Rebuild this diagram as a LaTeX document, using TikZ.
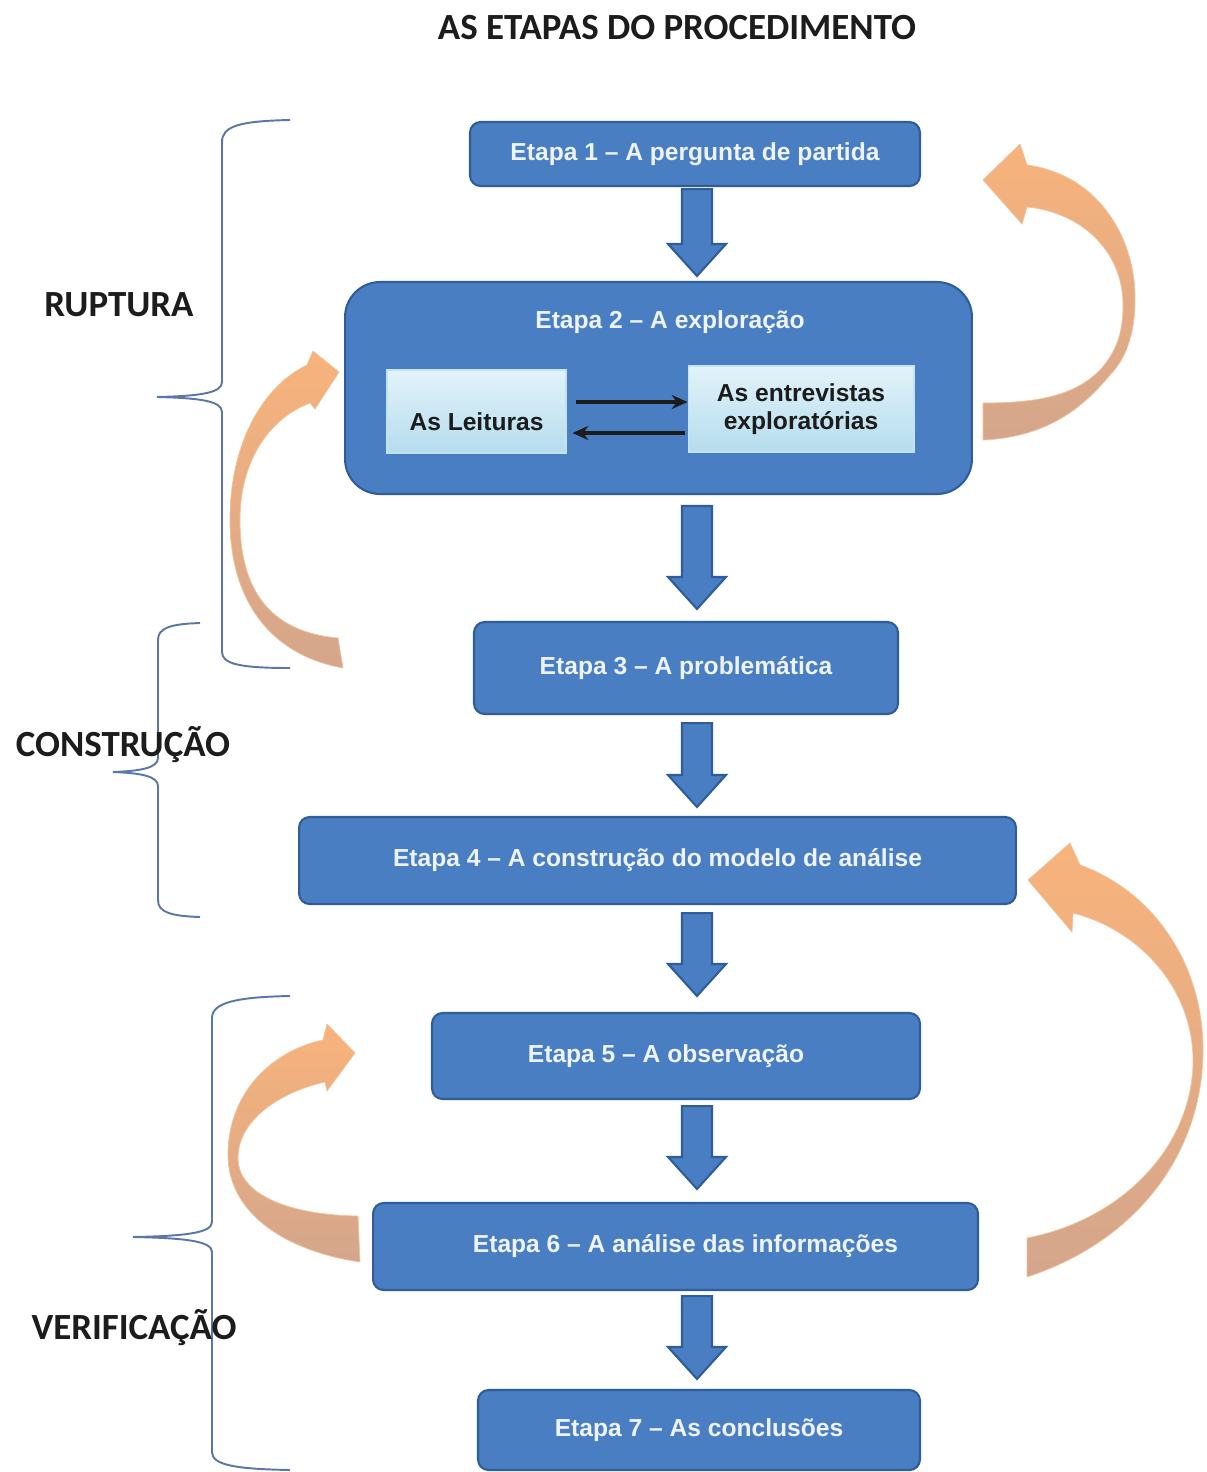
\documentclass[tikz,border=0pt]{standalone}
\usepackage{fontspec}
\setmainfont{Liberation Sans}
\newfontfamily\calibri{Carlito}
\usetikzlibrary{calc,arrows.meta}

\definecolor{boxblue}{HTML}{4A7EC2}
\definecolor{boxedge}{HTML}{2E5D9A}
\definecolor{boxtext}{HTML}{EEF3FA}
\definecolor{bracecol}{HTML}{5B77A6}
\definecolor{orangeA}{HTML}{F8B37B}
\definecolor{orangeB}{HTML}{D4A68C}
\definecolor{paleA}{HTML}{E2F3FA}
\definecolor{paleB}{HTML}{B5DCEE}
\definecolor{inktext}{HTML}{1C1C1C}

\tikzset{
  stage/.style={draw=boxedge, line width=1.2pt, fill=boxblue, rounded corners=6pt,
    text=boxtext, font=\bfseries\fontsize{14}{16}\selectfont, inner sep=0pt},
  stagetext/.style={text=boxtext, font=\bfseries\fontsize{14}{16}\selectfont, inner sep=0pt},
  subbox/.style={draw=paleB!80!white, line width=0.6pt, top color=paleA, bottom color=paleB,
    text=inktext, font=\bfseries\fontsize{14}{16}\selectfont, inner sep=0pt, align=center},
  blockarrow/.style={draw=boxedge, line width=1.2pt, fill=boxblue, line join=miter},
  ribbon/.style={top color=orangeA, bottom color=orangeB, draw=orangeA!80!brown!70, line width=0.4pt},
  bracestyle/.style={draw=bracecol, line width=1.1pt},
  phase/.style={font=\calibri\bfseries\fontsize{21}{25}\selectfont, text=inktext, inner sep=0pt},
  smallarrow/.style={-{Stealth[length=9pt,width=8pt]}, line width=1.8pt, draw=inktext}
}

% down-pointing block arrow between two stacked nodes, on the vertical line through (ax)
\newcommand\blockdown[4]{%
  \draw[blockarrow] let \p1=($(#1.south -| ax)+(0,#3)$), \p2=($(#2.north -| ax)+(0,-#4)$) in
    (\x1-0.3cm,\y1) -- (\x1+0.3cm,\y1) -- (\x1+0.3cm,\y2+0.64cm) -- (\x1+0.58cm,\y2+0.64cm)
    -- (\x1,\y2) -- (\x1-0.58cm,\y2+0.64cm) -- (\x1-0.3cm,\y2+0.64cm) -- cycle;}

\begin{document}
\begin{tikzpicture}[x=0.02cm,y=-0.02cm]
\useasboundingbox[fill=white] (0,0) rectangle (1207,1472);

% title
\node[phase] (ttl) at (677,28) {AS ETAPAS DO PROCEDIMENTO};

% phase braces
\draw[bracestyle] (290,120) .. controls (240,121) and (222,126) .. (222,142) -- (222,382)
  .. controls (222,393) and (200,396) .. (157,397) .. controls (200,398) and (222,401) .. (222,412)
  -- (222,652) .. controls (222,664) and (240,668) .. (290,668);
\draw[bracestyle] (200,623) .. controls (170,624) and (158,628) .. (158,640) -- (158,758)
  .. controls (158,768) and (140,771) .. (113,772) .. controls (140,773) and (158,776) .. (158,786)
  -- (158,900) .. controls (158,912) and (170,916) .. (200,917);
\draw[bracestyle] (290,996) .. controls (235,997) and (212,1003) .. (212,1018) -- (212,1222)
  .. controls (212,1233) and (185,1236) .. (133,1237) .. controls (185,1238) and (212,1241) .. (212,1252)
  -- (212,1452) .. controls (212,1465) and (235,1469) .. (290,1470);

\node[phase] (rup) at (119,305) {RUPTURA};
\node[phase] (con) at (123,745) {CONSTRUÇÃO};
\node[phase] (ver) at (134,1328) {VERIFICAÇÃO};

% stages
\node[stage, minimum width=9cm, minimum height=1.28cm] (b1) at (695,154) {Etapa 1 – A pergunta de partida};
\node[stage, rounded corners=20pt, minimum width=12.54cm, minimum height=4.24cm] (b2) at (658.5,388) {};
\node[stagetext] (b2t) at (670,322) {Etapa 2 – A exploração};
\node[subbox, minimum width=3.58cm, minimum height=1.66cm] (lit) at (476.5,411.5) {\raisebox{-0.37cm}[0pt][0pt]{As Leituras}};
\node[subbox, minimum width=4.52cm, minimum height=1.72cm] (ent) at (801,409) {As entrevistas\\exploratórias};
\node[stage, minimum width=8.48cm, minimum height=1.84cm] (b3) at (686,668) {Etapa 3 – A problemática};
\node[stage, minimum width=14.34cm, minimum height=1.74cm] (b4) at (657.5,860.5) {Etapa 4 – A construção do modelo de análise};
\node[stage, minimum width=9.76cm, minimum height=1.72cm] (b5) at (676,1056) {Etapa 5 – A observação\hspace*{0.4cm}};
\node[stage, minimum width=12.1cm, minimum height=1.74cm] (b6) at (675.5,1246.5) {\hspace*{0.4cm}Etapa 6 – A análise das informações};
\node[stage, minimum width=8.84cm, minimum height=1.6cm] (b7) at (699,1430) {Etapa 7 – As conclusões};

% exchange between readings and interviews
\coordinate (yup) at (0,402);
\coordinate (ydn) at (0,433);
\draw[smallarrow] ($(lit.east |- yup)+(9,0)$) -- (ent.west |- yup);
\draw[smallarrow] ($(ent.west |- ydn)+(-3,0)$) -- ($(lit.east |- ydn)+(6,0)$);

% block arrows between stages
\coordinate (ax) at (697,0);
\blockdown{b1}{b2}{2}{5}
\blockdown{b2}{b3}{11}{12}
\blockdown{b3}{b4}{8}{9}
\blockdown{b4}{b5}{8}{16}
\blockdown{b5}{b6}{6}{13}
\blockdown{b6}{b7}{5}{10}

% feedback arrows: stage 2 back to stage 1
\path[ribbon] (983,403) .. controls (1040,403) and (1075,395) .. (1100,370)
  .. controls (1118,350) and (1123,330) .. (1123,305)
  .. controls (1123,250) and (1080,212) .. (1027,207) -- (1022,224) -- (983,180) -- (1020,144) -- (1027,165)
  .. controls (1100,175) and (1136,240) .. (1135,300)
  .. controls (1135,335) and (1125,360) .. (1110,375)
  .. controls (1085,405) and (1050,437) .. (983,440) -- cycle;
% stage 3 back to stage 2
\path[ribbon] (338,638) .. controls (270,632) and (240,590) .. (240,520)
  .. controls (240,460) and (270,418) .. (310,403) -- (315,409) -- (339,372) -- (313,351) -- (307,365)
  .. controls (265,385) and (230,440) .. (230,520)
  .. controls (230,600) and (270,655) .. (343,668) -- cycle;
% stage 6 back to stage 4
\path[ribbon] (1027,1238) .. controls (1120,1220) and (1190,1150) .. (1193,1065)
  .. controls (1195,990) and (1140,930) .. (1073,913) -- (1072,932) -- (1028,880) -- (1070,843) -- (1080,865)
  .. controls (1150,890) and (1203,960) .. (1203,1050)
  .. controls (1203,1150) and (1140,1240) .. (1027,1277) -- cycle;
% stage 6 back to stage 5
\path[ribbon] (358,1216) .. controls (290,1215) and (238,1195) .. (238,1158)
  .. controls (238,1120) and (280,1092) .. (325,1082) -- (327,1091) -- (355,1053) -- (327,1024) -- (323,1040)
  .. controls (275,1050) and (228,1090) .. (228,1155)
  .. controls (228,1210) and (280,1250) .. (360,1262) -- cycle;
\end{tikzpicture}
\end{document}
